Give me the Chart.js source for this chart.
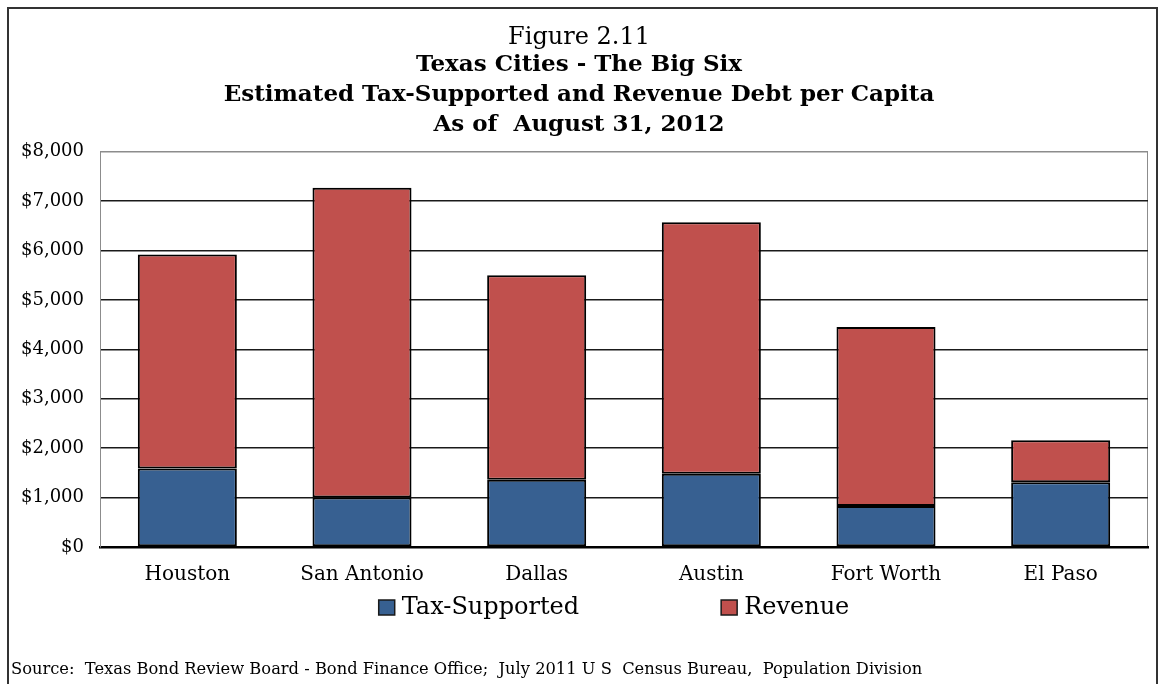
<!DOCTYPE html>
<html>
<head>
<meta charset="utf-8">
<script src="https://cdn.jsdelivr.net/npm/chart.js@4.4.1/dist/chart.umd.min.js"></script>
<style>
  html, body { margin: 0; padding: 0; background: #fff; overflow: hidden; }
  #wrap { position: relative; width: 1164px; height: 684px; }
  #frame { position: absolute; left: 7px; top: 7px; width: 1151px; height: 720px; border: 2px solid #333; box-sizing: border-box; }
  canvas { position: absolute; left: 0; top: 0; }
</style>
</head>
<body>
<div id="wrap">
  <div id="frame"></div>
  <canvas id="debt-chart" width="1164" height="684"></canvas>
</div>
<script>
// Debt per capita by city, in dollars
const cities = ['Houston', 'San Antonio', 'Dallas', 'Austin', 'Fort Worth', 'El Paso']
const taxSupported = [1590, 1000, 1360, 1480, 830, 1310]
const revenue = [4330, 6270, 4140, 5090, 3620, 850]
const yTicks = [0, 1000, 2000, 3000, 4000, 5000, 6000, 7000, 8000]

const titleLines = ['Texas Cities - The Big Six', 'Estimated Tax-Supported and Revenue Debt per Capita', 'As of  August 31, 2012']
const sourceNote = 'Source:  Texas Bond Review Board - Bond Finance Office;  July 2011 U S  Census Bureau,  Population Division'

const serif = '"DejaVu Serif", "Liberation Serif", serif'
const blue = '#376091'
const red = '#c0504d'

// legend + source line drawn under the axis
const bottomText = {
    id: 'bottomText',
    afterDraw(chart) {
        const ctx = chart.ctx
        const area = chart.chartArea
        ctx.save()
        ctx.font = '24px ' + serif
        ctx.textBaseline = 'middle'
        ctx.textAlign = 'left'
        const items = chart.data.datasets.map(ds => ({
            text: ds.label,
            color: ds.backgroundColor,
            w: ctx.measureText(ds.label).width
        }))
        const box = 16, gap = 7, spacing = 142
        const total = items.reduce((s, it) => s + box + gap + it.w, 0) + spacing * (items.length - 1)
        let x = (area.left + area.right) / 2 - total / 2 - 10
        const y = 608
        items.forEach(it => {
            ctx.fillStyle = it.color
            ctx.fillRect(x, y - 8, box, 15)
            ctx.strokeStyle = '#1a1a1a'
            ctx.lineWidth = 1.5
            ctx.strokeRect(x, y - 8, box, 15)
            ctx.fillStyle = '#000'
            ctx.fillText(it.text, x + box + gap, y)
            x += box + gap + it.w + spacing
        })
        ctx.font = '16.3px ' + serif
        ctx.fillText(sourceNote, 11, 670)
        ctx.restore()
    }
}

new Chart(document.querySelector('#debt-chart'), {
    type: 'bar',
    data: {
        labels: cities,
        datasets: [
            {
                label: 'Tax-Supported',
                data: taxSupported,
                backgroundColor: blue,
                borderColor: '#000',
                borderWidth: 2,
                borderSkipped: false
            },
            {
                label: 'Revenue',
                data: revenue,
                backgroundColor: red,
                borderColor: '#000',
                borderWidth: 2,
                borderSkipped: false
            }
        ]
    },
    options: {
        responsive: false,
        animation: false,
        devicePixelRatio: 1,
        barPercentage: 0.567,
        categoryPercentage: 1,
        layout: { padding: { left: 10, right: 16, top: 0, bottom: 81 } },
        plugins: {
            legend: { display: false },
            tooltip: { enabled: false },
            title: {
                display: true,
                text: 'Figure 2.11',
                color: '#000',
                font: { family: serif, size: 24, weight: 'normal', lineHeight: 1 },
                padding: { top: 26, bottom: 0 }
            },
            subtitle: {
                display: true,
                text: titleLines,
                color: '#000',
                font: { family: serif, size: 23, weight: 'bold', lineHeight: 1.3 },
                padding: { top: 0, bottom: 12 }
            }
        },
        scales: {
            x: {
                stacked: true,
                grid: {
                    drawTicks: false,
                    color: ctx => ctx.type === 'scale' ? '#8c8c8c' : 'transparent'
                },
                border: { color: '#000', width: 2.5 },
                ticks: { color: '#000', padding: 16, font: { family: serif, size: 20 } }
            },
            y: {
                stacked: true,
                min: 0,
                max: 8000,
                afterFit: scale => { scale.width = 90 },
                afterBuildTicks: scale => { scale.ticks = yTicks.map(v => ({ value: v })) },
                grid: {
                    drawTicks: false,
                    lineWidth: 1.5,
                    color: ctx => ctx.tick && ctx.tick.value === 8000 ? '#8c8c8c' : '#1a1a1a'
                },
                border: { color: '#8c8c8c', width: 1 },
                ticks: {
                    color: '#000',
                    padding: 16,
                    font: { family: serif, size: 18 },
                    callback: v => '$' + v.toLocaleString('en-US')
                }
            }
        }
    },
    plugins: [bottomText]
})
</script>
</body>
</html>
